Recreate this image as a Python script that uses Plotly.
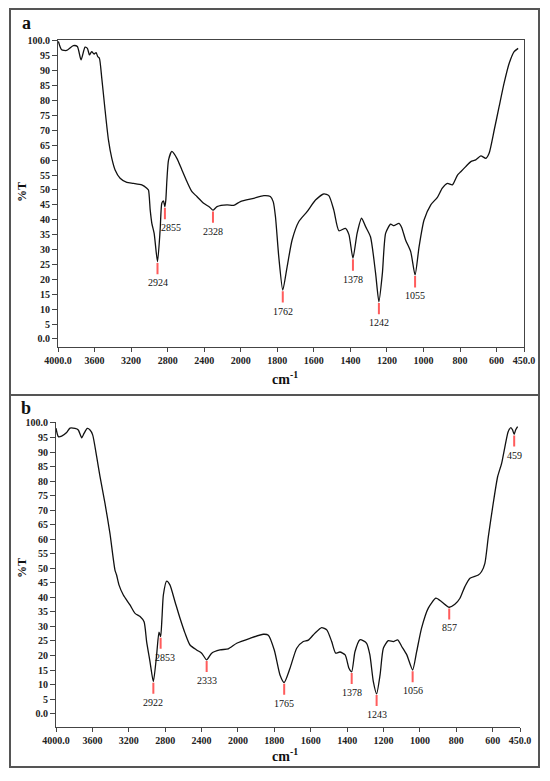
import plotly.graph_objects as go

# FTIR spectra, wavenumber (cm-1) vs %T
wn_a = [3996, 3960, 3905, 3832, 3788, 3748, 3704, 3678, 3656, 3631, 3605, 3583, 3565, 3547,
        3521, 3485, 3448, 3411, 3375, 3320, 3247, 3174, 3083, 3028, 3010, 2991, 2973, 2948,
        2911, 2882, 2864, 2846, 2830, 2820, 2808, 2790, 2754, 2699, 2644, 2589, 2534, 2480,
        2406, 2340, 2304, 2260, 2150, 2078, 2004, 1929, 1874, 1838, 1822, 1810, 1792, 1770,
        1746, 1719, 1682, 1637, 1591, 1545, 1518, 1491, 1463, 1427, 1408, 1386, 1363, 1339,
        1317, 1290, 1262, 1244, 1225, 1207, 1180, 1162, 1134, 1120, 1098, 1070, 1046, 1024,
        997, 960, 924, 897, 869, 842, 814, 796, 769, 741, 714, 686, 659, 641, 613, 586, 559,
        531, 504, 482]
t_a = [99.8, 97.0, 96.8, 98.4, 98.1, 93.6, 97.9, 97.5, 95.3, 96.4, 95.6, 96.1, 94.7, 94.2,
       87.5, 76.8, 66.8, 60.6, 56.7, 53.9, 52.5, 52.2, 51.7, 50.6, 50.0, 43.3, 38.8, 35.5,
       25.9, 36.6, 45.5, 46.3, 44.4, 46.6, 53.4, 60.1, 62.9, 60.6, 56.7, 52.8, 49.4, 47.8,
       45.5, 44.2, 43.2, 44.4, 45.0, 44.8, 46.1, 47.2, 48.1, 47.8, 46.0, 41.0, 27.6, 16.4,
       24.3, 33.2, 39.4, 42.7, 46.6, 48.7, 48.1, 43.3, 36.3, 37.1, 35.0, 27.1, 35.5, 40.5,
       37.7, 34.3, 22.0, 12.5, 22.0, 35.5, 38.5, 38.0, 38.8, 37.5, 33.2, 29.3, 21.5, 31.0,
       39.9, 45.0, 47.5, 50.6, 52.2, 51.7, 55.0, 56.1, 57.8, 59.5, 60.1, 61.4, 60.6, 62.3,
       70.1, 78.0, 85.8, 92.5, 96.4, 97.5]

wn_b = [4000, 3974, 3938, 3883, 3846, 3791, 3755, 3718, 3692, 3656, 3626, 3597, 3553, 3516,
        3462, 3407, 3352, 3334, 3308, 3260, 3187, 3131, 3076, 3032, 3004, 2967, 2930, 2894,
        2868, 2850, 2835, 2820, 2784, 2748, 2692, 2637, 2582, 2527, 2454, 2399, 2344, 2289,
        2198, 2106, 2014, 1934, 1861, 1833, 1800, 1769, 1746, 1714, 1677, 1641, 1613, 1577,
        1540, 1512, 1485, 1463, 1440, 1411, 1390, 1375, 1357, 1330, 1310, 1293, 1275, 1256,
        1238, 1219, 1201, 1174, 1146, 1122, 1100, 1072, 1040, 1018, 991, 954, 912, 881, 839,
        808, 780, 753, 725, 679, 661, 643, 624, 597, 573, 551, 533, 515, 500, 491, 482, 474,
        463]
t_b = [98.2, 95.3, 95.5, 96.7, 98.2, 98.1, 97.6, 94.9, 96.4, 98.1, 97.6, 95.9, 88.4, 81.5,
       72.4, 62.0, 49.4, 47.7, 44.3, 40.8, 37.4, 34.5, 33.4, 31.6, 24.8, 17.9, 11.0, 20.2,
       28.0, 26.5, 33.0, 40.8, 45.6, 44.3, 38.5, 32.8, 27.7, 23.6, 21.9, 20.8, 18.5, 20.8,
       21.9, 22.3, 24.2, 25.9, 27.3, 27.0, 21.8, 13.3, 10.7, 15.6, 22.5, 24.8, 25.3, 27.7,
       29.6, 28.8, 24.8, 20.8, 21.2, 20.2, 15.6, 14.4, 21.3, 25.4, 25.0, 24.2, 20.2, 11.0,
       6.8, 13.3, 22.5, 25.1, 24.8, 25.4, 23.1, 20.2, 15.0, 21.3, 29.4, 36.3, 39.7, 38.5,
       36.6, 37.6, 39.7, 43.7, 46.6, 47.7, 48.9, 51.7, 60.9, 72.4, 81.5, 86.1, 91.8, 97.0,
       98.4, 97.6, 96.1, 97.6, 98.7]

# marked bands: position of the dip, %T at the dip, printed label
peak_a_x = [2911, 2830, 2304, 1770, 1386, 1244, 1046]
peak_a_t = [25.9, 44.4, 43.2, 16.4, 27.1, 12.5, 21.5]
peak_a_lbl = ["2924", "2855", "2328", "1762", "1378", "1242", "1055"]

peak_b_x = [2930, 2850, 2344, 1746, 1375, 1238, 1040, 839, 482]
peak_b_t = [11.0, 26.5, 18.5, 10.7, 14.4, 6.8, 15.0, 36.6, 96.1]
peak_b_lbl = ["2922", "2853", "2333", "1765", "1378", "1243", "1056", "857", "459"]

x_ticks = [4000, 3600, 3200, 2800, 2400, 2000, 1800, 1600, 1400, 1200, 1000, 800, 600, 450]
x_tick_lbl = ["4000.0", "3600", "3200", "2800", "2400", "2000", "1800", "1600", "1400",
              "1200", "1000", "800", "600", "450.0"]
y_ticks = list(range(0, 101, 5))
y_tick_lbl = ["0.0"] + [str(v) for v in y_ticks[1:-1]] + ["100.0"]


def pos(w):
    # instrument style axis: scale doubles below 2000 cm-1
    return (4000 - w) / 2 if w >= 2000 else 1000 + (2000 - w)


# the page body has an 8px margin, so the figure is drawn 8px smaller and layout
# positions are given in window pixels and converted here
OFF = 8
W, H = 550 - OFF, 781 - OFF


def fx(px):
    return (px - OFF) / W


def fy(py):
    return 1 - (py - OFF) / H


SERIF = "Liberation Serif"
fig = go.Figure()

fig.add_trace(go.Scatter(x=[pos(w) for w in wn_a], y=t_a, mode="lines",
                         line=dict(color="#111", width=1.3, shape="spline", smoothing=0.6),
                         xaxis="x", yaxis="y", showlegend=False, hoverinfo="skip"))
fig.add_trace(go.Scatter(x=[pos(w) for w in wn_b], y=t_b, mode="lines",
                         line=dict(color="#111", width=1.3, shape="spline", smoothing=0.6),
                         xaxis="x2", yaxis="y2", showlegend=False, hoverinfo="skip"))

# labels that sit beside their marker rather than centred under it
nudge = {"2855": 6, "2853": 4}

shapes = []
annots = []
for xr, yr, px, pt, pl in [("x", "y", peak_a_x, peak_a_t, peak_a_lbl),
                           ("x2", "y2", peak_b_x, peak_b_t, peak_b_lbl)]:
    for w, t, lbl in zip(px, pt, pl):
        shapes.append(dict(type="line", xref=xr, yref=yr, x0=pos(w), x1=pos(w),
                           y0=t - 0.4, y1=t - 4.2, line=dict(color="#ff5c5c", width=2)))
        annots.append(dict(xref=xr, yref=yr, x=pos(w), y=t - 4.2, text=lbl, showarrow=False,
                           yanchor="top", xanchor="center", yshift=-1,
                           xshift=nudge.get(lbl, 0),
                           font=dict(family=SERIF, size=10, color="#111")))

# outer frames of the two panels
for top, bot in [(9, 395), (395, 767)]:
    shapes.append(dict(type="rect", xref="paper", yref="paper", x0=fx(10), x1=fx(539),
                       y0=fy(bot), y1=fy(top), line=dict(color="#555", width=2)))

# panel letters and axis titles
centred = dict(xref="paper", yref="paper", showarrow=False, xanchor="center", yanchor="middle")
for letter, ly, ty, cy in [("a", 23, 192, 378), ("b", 408, 568, 755)]:
    annots.append(dict(centred, x=fx(26), y=fy(ly), text=f"<b>{letter}</b>",
                       font=dict(family=SERIF, size=18, color="#111")))
    annots.append(dict(centred, x=fx(22), y=fy(ty), text="<b>%T</b>", textangle=-90,
                       font=dict(family=SERIF, size=12, color="#111")))
    annots.append(dict(centred, x=fx(285), y=fy(cy), text="<b>cm<sup>-1</sup></b>",
                       font=dict(family=SERIF, size=14, color="#111")))

tick_font = dict(family=SERIF, size=10, color="#222", weight="bold")
xax = dict(range=[0, pos(450)], tickmode="array", tickvals=[pos(w) for w in x_ticks],
           ticktext=x_tick_lbl, ticks="outside", ticklen=4, tickcolor="#444",
           showline=True, linecolor="#444", linewidth=1, showgrid=False, zeroline=False,
           tickfont=tick_font, automargin=False)
yax = dict(tickmode="array", tickvals=y_ticks, ticktext=y_tick_lbl, ticks="outside",
           ticklen=5, tickcolor="#444", showline=True, linecolor="#444", linewidth=1,
           showgrid=False, zeroline=False, tickfont=tick_font, automargin=False)

fig.update_layout(
    width=W, height=H,
    margin=dict(l=0, r=0, t=0, b=0, pad=0, autoexpand=False),
    paper_bgcolor="white", plot_bgcolor="white",
    xaxis=dict(xax, domain=[fx(58), fx(524)], anchor="y", mirror=True),
    yaxis=dict(yax, domain=[fy(346.7), fy(40)], range=[-2.6, 100.3], anchor="x", mirror=True),
    xaxis2=dict(xax, domain=[fx(56), fx(520)], anchor="y2"),
    yaxis2=dict(yax, domain=[fy(726.7), fy(421.5)], range=[-4.5, 100.5], anchor="x2"),
    shapes=shapes,
    annotations=annots,
)

fig.write_html("out.html")
